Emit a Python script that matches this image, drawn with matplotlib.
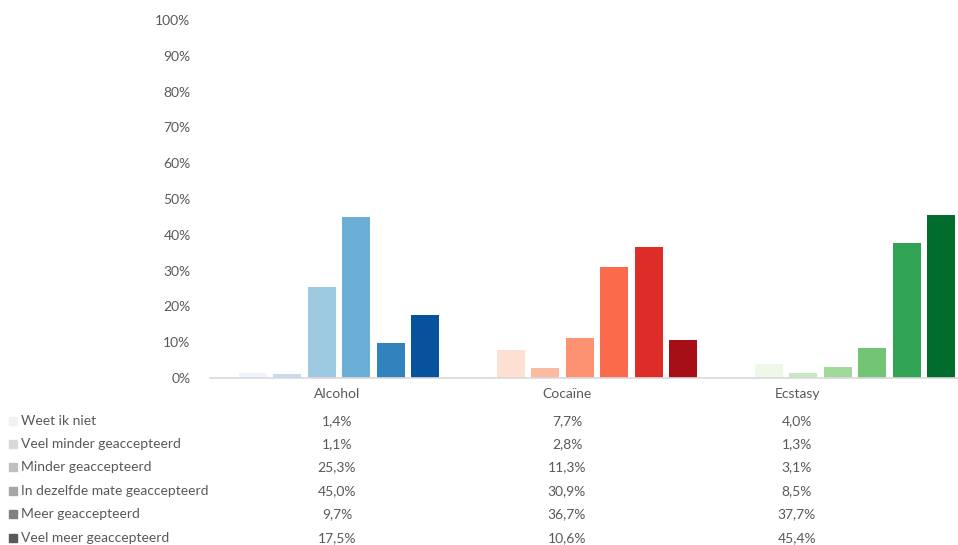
import numpy as np
import matplotlib.pyplot as plt
from matplotlib.patches import Rectangle

plt.rcParams['font.family'] = ['Lato', 'DejaVu Sans']

categories = ['Alcohol', 'Cocaïne', 'Ecstasy']
series = ['Weet ik niet', 'Veel minder geaccepteerd', 'Minder geaccepteerd',
          'In dezelfde mate geaccepteerd', 'Meer geaccepteerd', 'Veel meer geaccepteerd']
alcohol = [1.4, 1.1, 25.3, 45.0, 9.7, 17.5]
cocaine = [7.7, 2.8, 11.3, 30.9, 36.7, 10.6]
ecstasy = [4.0, 1.3, 3.1, 8.5, 37.7, 45.4]
table_text = [['1,4%', '7,7%', '4,0%'],
              ['1,1%', '2,8%', '1,3%'],
              ['25,3%', '11,3%', '3,1%'],
              ['45,0%', '30,9%', '8,5%'],
              ['9,7%', '36,7%', '37,7%'],
              ['17,5%', '10,6%', '45,4%']]

blues = ['#EFF3FF', '#C6DBEF', '#9ECAE1', '#6BAED6', '#3182BD', '#08519C']
reds = ['#FEE0D2', '#FCBBA1', '#FC9272', '#FB6A4A', '#DE2D26', '#A50F15']
greens = ['#EDF8E9', '#C7E9C0', '#A1D99B', '#74C476', '#31A354', '#006D2C']
grays = ['#F2F2F2', '#D9D9D9', '#BFBFBF', '#A6A6A6', '#808080', '#595959']
txt = '#595959'

W, H = 958, 545
fig = plt.figure(figsize=(W / 100, H / 100), dpi=100)
ax = fig.add_axes([210 / W, 1 - 378 / H, 1 - 210 / W, (378 - 20) / H])

step = 0.1337
width = 0.1085
offsets = (np.arange(6) - 2.5) * step
for i, (vals, cols) in enumerate(zip([alcohol, cocaine, ecstasy], [blues, reds, greens])):
    ax.bar(i + offsets, vals, width=width, color=cols, zorder=2)

ax.set_ylim(0, 100)
ax.set_xlim(-0.5, 2.399)
ax.set_yticks(range(0, 101, 10))
ax.set_yticklabels([f'{v}%' for v in range(0, 101, 10)], color=txt, fontsize=10)
ax.tick_params(axis='y', length=0, pad=14)
ax.set_xticks([])
for s in ['top', 'right', 'left']:
    ax.spines[s].set_visible(False)
ax.spines['bottom'].set_color('#D9D9D9')
ax.spines['bottom'].set_linewidth(1.2)

# data table below the chart
col_x = [337, 567, 797]
for cx, name in zip(col_x, categories):
    fig.text(cx / W, 1 - 394 / H, name, ha='center', va='center', color=txt, fontsize=10)
row_y = [421, 444, 467, 491, 514, 538]
for r, (ry, label) in enumerate(zip(row_y, series)):
    fig.patches.append(Rectangle((9 / W, 1 - (ry + 4) / H), 8 / W, 8 / H,
                                 transform=fig.transFigure, color=grays[r]))
    fig.text(21 / W, 1 - ry / H, label, ha='left', va='center', color=txt, fontsize=10)
    for cx, t in zip(col_x, table_text[r]):
        fig.text(cx / W, 1 - ry / H, t, ha='center', va='center', color=txt, fontsize=10)

fig.savefig('out.png', dpi=100)
